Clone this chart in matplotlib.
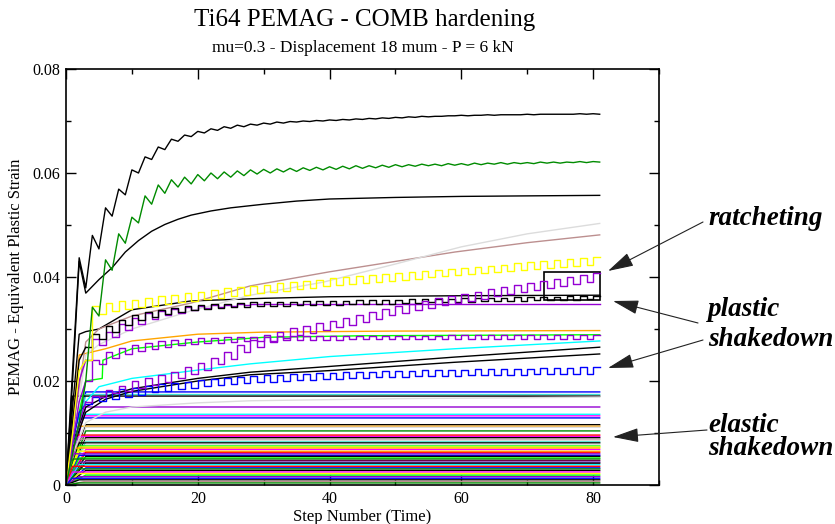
"""
Ti64 PEMAG - COMB hardening: equivalent plastic strain against step number,
with the ratcheting / plastic shakedown / elastic shakedown regimes marked.
"""

import numpy as np
import matplotlib
matplotlib.use('Agg')
import matplotlib.pyplot as plt
from matplotlib.patches import Rectangle
from matplotlib.ticker import MultipleLocator, FuncFormatter

# xmgrace default palette
BLACK = '#000000'
RED = '#ff0000'
GREEN = '#00ff00'
BLUE = '#0000ff'
YELLOW = '#ffff00'
BROWN = '#bc8f8f'
GREY = '#dcdcdc'
VIOLET = '#9400d3'
CYAN = '#00ffff'
MAGENTA = '#ff00ff'
ORANGE = '#ffa500'
INDIGO = '#7221bc'
MAROON = '#670748'
TURQUOISE = '#40e0d0'
GREEN4 = '#008b00'

steps = np.arange(82)

# --- curves read step by step (one value per step 0..81) -------------------
top_black = [
    0, 0.0220, 0.0437, 0.0379, 0.0480, 0.0454, 0.0533, 0.0517, 0.0569, 0.0558,
    0.0606, 0.0600, 0.0631, 0.0626, 0.0650, 0.0645, 0.0665, 0.0661, 0.0673, 0.0670,
    0.0680, 0.0677, 0.0685, 0.0682, 0.0689, 0.0686, 0.0692, 0.0689, 0.0694, 0.0692,
    0.0696, 0.0694, 0.0698, 0.0696, 0.0699, 0.0698, 0.0700, 0.0699, 0.0701, 0.0700,
    0.0702, 0.0701, 0.0703, 0.0702, 0.0704, 0.0703, 0.0705, 0.0704, 0.0706, 0.0705,
    0.0707, 0.0706, 0.0708, 0.0707, 0.0709, 0.0708, 0.0709, 0.0709, 0.0710, 0.0710,
    0.0711, 0.0710, 0.0711, 0.0711, 0.0712, 0.0711, 0.0712, 0.0712, 0.0712, 0.0712,
    0.0713, 0.0712, 0.0713, 0.0713, 0.0713, 0.0713, 0.0713, 0.0713, 0.0714, 0.0713,
    0.0714, 0.0713]

green_top = [
    0, 0.0060, 0.0120, 0.0200, 0.0342, 0.0325, 0.0433, 0.0413, 0.0483, 0.0465,
    0.0515, 0.0504, 0.0556, 0.0540, 0.0577, 0.0561, 0.0587, 0.0573, 0.0592, 0.0579,
    0.0597, 0.0585, 0.0600, 0.0589, 0.0602, 0.0592, 0.0604, 0.0595, 0.0606, 0.0598,
    0.0607, 0.0600, 0.0608, 0.0602, 0.0609, 0.0603, 0.0610, 0.0605, 0.0611, 0.0606,
    0.0612, 0.0607, 0.0613, 0.0608, 0.0614, 0.0609, 0.0614, 0.0610, 0.0615, 0.0611,
    0.0616, 0.0612, 0.0616, 0.0613, 0.0617, 0.0614, 0.0617, 0.0614, 0.0618, 0.0615,
    0.0618, 0.0615, 0.0619, 0.0616, 0.0619, 0.0617, 0.0620, 0.0617, 0.0620, 0.0618,
    0.0620, 0.0618, 0.0621, 0.0619, 0.0621, 0.0619, 0.0621, 0.0620, 0.0622, 0.0620,
    0.0622, 0.0621]

yellow_sq = [
    0, 0.0100, 0.0220, 0.0240, 0.0345, 0.0328, 0.0350, 0.0334, 0.0353, 0.0338,
    0.0356, 0.0342, 0.0360, 0.0345, 0.0363, 0.0348, 0.0366, 0.0351, 0.0369, 0.0354,
    0.0372, 0.0357, 0.0375, 0.0360, 0.0378, 0.0363, 0.0380, 0.0366, 0.0383, 0.0369,
    0.0385, 0.0372, 0.0388, 0.0374, 0.0390, 0.0377, 0.0392, 0.0379, 0.0395, 0.0382,
    0.0398, 0.0385, 0.0400, 0.0387, 0.0402, 0.0389, 0.0404, 0.0391, 0.0406, 0.0393,
    0.0408, 0.0395, 0.0410, 0.0397, 0.0412, 0.0400, 0.0414, 0.0402, 0.0416, 0.0404,
    0.0418, 0.0406, 0.0420, 0.0408, 0.0422, 0.0410, 0.0424, 0.0412, 0.0426, 0.0414,
    0.0428, 0.0416, 0.0430, 0.0418, 0.0432, 0.0420, 0.0434, 0.0422, 0.0436, 0.0424,
    0.0438, 0.0438]

ratchet_violet = [
    0, 0.0060, 0.0120, 0.0160, 0.0172, 0.0170, 0.0182, 0.0176, 0.0190, 0.0181,
    0.0200, 0.0187, 0.0205, 0.0192, 0.0211, 0.0198, 0.0218, 0.0205, 0.0226, 0.0213,
    0.0235, 0.0222, 0.0245, 0.0232, 0.0256, 0.0243, 0.0269, 0.0256, 0.0279, 0.0266,
    0.0288, 0.0275, 0.0295, 0.0282, 0.0301, 0.0288, 0.0306, 0.0293, 0.0311, 0.0298,
    0.0316, 0.0303, 0.0321, 0.0308, 0.0327, 0.0314, 0.0333, 0.0320, 0.0339, 0.0326,
    0.0344, 0.0331, 0.0349, 0.0336, 0.0354, 0.0341, 0.0359, 0.0346, 0.0363, 0.0350,
    0.0367, 0.0354, 0.0371, 0.0358, 0.0376, 0.0363, 0.0380, 0.0367, 0.0384, 0.0371,
    0.0388, 0.0375, 0.0392, 0.0379, 0.0396, 0.0383, 0.0400, 0.0387, 0.0404, 0.0391,
    0.0407, 0.0407]

black_sq = [
    0, 0.0120, 0.0240, 0.0265, 0.0290, 0.0280, 0.0305, 0.0295, 0.0318, 0.0308,
    0.0327, 0.0317, 0.0333, 0.0323, 0.0337, 0.0328, 0.0341, 0.0333, 0.0344, 0.0337,
    0.0346, 0.0339, 0.0348, 0.0341, 0.0349, 0.0342, 0.0350, 0.0343, 0.0351, 0.0344,
    0.0351, 0.0345, 0.0352, 0.0345, 0.0352, 0.0346, 0.0353, 0.0346, 0.0353, 0.0347,
    0.0354, 0.0347, 0.0354, 0.0348, 0.0355, 0.0348, 0.0355, 0.0349, 0.0356, 0.0349,
    0.0356, 0.0350, 0.0357, 0.0350, 0.0357, 0.0351, 0.0358, 0.0351, 0.0358, 0.0352,
    0.0359, 0.0352, 0.0359, 0.0353, 0.0360, 0.0353, 0.0360, 0.0354, 0.0361, 0.0354,
    0.0361, 0.0355, 0.0362, 0.0355, 0.0362, 0.0356, 0.0363, 0.0356, 0.0363, 0.0357,
    0.0364, 0.0364]

violet_flat = [
    0, 0.0100, 0.0200, 0.0240, 0.0280, 0.0270, 0.0295, 0.0285, 0.0310, 0.0298,
    0.0322, 0.0310, 0.0330, 0.0319, 0.0335, 0.0326, 0.0339, 0.0331, 0.0342, 0.0336,
    0.0344, 0.0340, 0.0346, 0.0343, 0.0347, 0.0345, 0.0348, 0.0347, 0.0348, 0.0348,
    0.0348, 0.0348, 0.0348, 0.0348, 0.0348, 0.0348, 0.0348, 0.0348, 0.0348, 0.0348,
    0.0348, 0.0348, 0.0348, 0.0348, 0.0348, 0.0348, 0.0348, 0.0348, 0.0348, 0.0348,
    0.0348, 0.0348, 0.0348, 0.0348, 0.0348, 0.0348, 0.0348, 0.0348, 0.0348, 0.0348,
    0.0348, 0.0348, 0.0348, 0.0348, 0.0348, 0.0348, 0.0348, 0.0348, 0.0348, 0.0348,
    0.0348, 0.0348, 0.0348, 0.0348, 0.0348, 0.0348, 0.0348, 0.0348, 0.0348, 0.0348,
    0.0348, 0.0348]

violet_sq = [
    0, 0.0080, 0.0160, 0.0200, 0.0240, 0.0232, 0.0255, 0.0245, 0.0264, 0.0252,
    0.0270, 0.0257, 0.0274, 0.0262, 0.0277, 0.0266, 0.0279, 0.0269, 0.0281, 0.0271,
    0.0282, 0.0273, 0.0283, 0.0274, 0.0284, 0.0275, 0.0284, 0.0276, 0.0285, 0.0277,
    0.0285, 0.0277, 0.0286, 0.0278, 0.0286, 0.0278, 0.0286, 0.0279, 0.0287, 0.0279,
    0.0287, 0.0279, 0.0287, 0.0280, 0.0287, 0.0280, 0.0287, 0.0280, 0.0287, 0.0280,
    0.0287, 0.0280, 0.0287, 0.0280, 0.0287, 0.0280, 0.0287, 0.0281, 0.0288, 0.0281,
    0.0288, 0.0281, 0.0288, 0.0281, 0.0288, 0.0281, 0.0288, 0.0281, 0.0288, 0.0281,
    0.0288, 0.0281, 0.0288, 0.0281, 0.0288, 0.0281, 0.0288, 0.0281, 0.0288, 0.0281,
    0.0288, 0.0288]

blue_sq = [
    0, 0.0080, 0.0140, 0.0155, 0.0170, 0.0162, 0.0180, 0.0166, 0.0184, 0.0170,
    0.0187, 0.0174, 0.0191, 0.0178, 0.0194, 0.0181, 0.0197, 0.0184, 0.0199, 0.0187,
    0.0202, 0.0190, 0.0204, 0.0192, 0.0206, 0.0194, 0.0208, 0.0196, 0.0210, 0.0198,
    0.0211, 0.0199, 0.0212, 0.0200, 0.0213, 0.0201, 0.0214, 0.0202, 0.0215, 0.0203,
    0.0216, 0.0204, 0.0217, 0.0205, 0.0218, 0.0206, 0.0218, 0.0207, 0.0219, 0.0207,
    0.0220, 0.0208, 0.0220, 0.0209, 0.0221, 0.0209, 0.0221, 0.0210, 0.0222, 0.0210,
    0.0222, 0.0211, 0.0223, 0.0211, 0.0223, 0.0212, 0.0224, 0.0212, 0.0224, 0.0212,
    0.0224, 0.0213, 0.0225, 0.0213, 0.0225, 0.0213, 0.0225, 0.0214, 0.0226, 0.0214,
    0.0226, 0.0226]

# --- smoother curves, read at a few steps ----------------------------------
black_mid_x = [0, 1, 2, 3, 5, 7, 9, 11, 13, 15, 17, 19, 22, 25, 30, 35, 40, 50, 60, 70, 81]
black_mid_y = [0, 0.0200, 0.0430, 0.0369, 0.0395, 0.0418, 0.0448, 0.0470, 0.0488, 0.0501,
               0.0511, 0.0519, 0.0527, 0.0533, 0.0540, 0.0546, 0.0550, 0.0553, 0.0555,
               0.0556, 0.0557]

grey_x = [0, 1, 3, 5, 10, 19, 28, 39, 50, 60, 70, 81]
grey_y = [0, 0.0080, 0.0250, 0.0270, 0.0300, 0.0335, 0.0365, 0.0390, 0.0425, 0.0458,
          0.0483, 0.0503]

brown_x = [0, 1, 3, 5, 10, 19, 28, 40, 50, 59, 70, 81]
brown_y = [0, 0.0100, 0.0275, 0.0300, 0.0325, 0.0350, 0.0383, 0.0410, 0.0430, 0.0448,
           0.0466, 0.0481]

black_line_x = [0, 1, 2, 3, 5, 10, 19, 30, 40, 60, 81]
black_line_y = [0, 0.0150, 0.0290, 0.0295, 0.0300, 0.0337, 0.0354, 0.0359, 0.0362,
                0.0364, 0.0365]

orange_x = [0, 1, 2, 4, 6, 10, 20, 30, 50, 81]
orange_y = [0, 0.0120, 0.0250, 0.0256, 0.0262, 0.0277, 0.0290, 0.0294, 0.0296, 0.0297]

green_x = [0, 1, 3, 5.5, 5.6, 10, 20, 30, 45, 81]
green_y = [0, 0.0080, 0.0200, 0.0205, 0.0240, 0.0262, 0.0275, 0.0284, 0.0287, 0.0289]

cyan_x = [0, 1, 3, 5, 10, 20, 28, 40, 59, 81]
cyan_y = [0, 0.0100, 0.0160, 0.0189, 0.0205, 0.0221, 0.0233, 0.0247, 0.0262, 0.0277]

black_c_x = [0, 1, 3, 6, 10, 20, 28, 40, 59, 81]
black_c_y = [0, 0.0080, 0.0150, 0.0170, 0.0185, 0.0205, 0.0217, 0.0228, 0.0246, 0.0265]

black_d_x = [0, 1, 3, 6, 10, 20, 28, 40, 59, 81]
black_d_y = [0, 0.0070, 0.0140, 0.0165, 0.0180, 0.0200, 0.0212, 0.0220, 0.0236, 0.0252]

grey_e_x = [0, 1, 3, 6, 10, 20, 28, 50, 81]
grey_e_y = [0, 0.0060, 0.0120, 0.0140, 0.0150, 0.0158, 0.0162, 0.0166, 0.0169]

# --- elastic shakedown: flat levels reached after a few steps --------------
flat_levels = [0.0179, 0.0174, 0.0171, 0.0150, 0.0136, 0.0133, 0.0129, 0.0116, 0.0113,
               0.0111, 0.0104, 0.0096, 0.0093, 0.0091, 0.0088, 0.0086, 0.0083, 0.0081,
               0.0078, 0.0075, 0.0073, 0.0071, 0.0068, 0.0065, 0.0063, 0.0060, 0.0057,
               0.0055, 0.0052, 0.0050, 0.0047, 0.0044, 0.0042, 0.0039, 0.0036, 0.0033,
               0.0031, 0.0028, 0.0025, 0.0022, 0.0019, 0.0016, 0.0013, 0.0010, 0.0007,
               0.0004]
flat_rise = [3, 3, 1, 3, 1, 1, 1, 3, 1, 3, 3, 1, 1, 3, 2, 3, 3, 2, 3, 2, 2, 1, 3, 2, 3, 1,
             2, 3, 2, 1, 3, 2, 3, 2, 1, 3, 2, 3, 1, 2, 3, 2, 1, 2, 3, 2]
flat_colors = [BLUE, TURQUOISE, BLACK, VIOLET, CYAN, MAGENTA, BLUE, BLACK, ORANGE, GREY,
               GREEN4, RED, MAGENTA, BLACK, BROWN, GREY, TURQUOISE, BLACK, GREY, GREEN,
               YELLOW, ORANGE, MAGENTA, YELLOW, RED, VIOLET, BLUE, BLACK, GREEN, GREEN4,
               MAROON, INDIGO, BLACK, CYAN, RED, BLUE, GREEN4, BLACK, MAGENTA, YELLOW,
               GREEN, VIOLET, BLUE, BLACK, BROWN, GREEN4]

SERIF = ['Liberation Serif', 'DejaVu Serif']
LW = 1.0

fig = plt.figure(figsize=(8.35, 5.24), dpi=100)
ax = fig.add_axes([66 / 835, 1 - 485 / 524, 593 / 835, 416 / 524])

for level, rise, col in zip(flat_levels, flat_rise, flat_colors):
    ax.plot([0, rise, 81], [0, level, level], color=col, lw=LW)

for xs, ys, col in [(grey_e_x, grey_e_y, GREY), (black_d_x, black_d_y, BLACK),
                    (black_c_x, black_c_y, BLACK), (cyan_x, cyan_y, CYAN),
                    (green_x, green_y, GREEN), (orange_x, orange_y, ORANGE),
                    (black_line_x, black_line_y, BLACK), (brown_x, brown_y, BROWN),
                    (grey_x, grey_y, GREY), (black_mid_x, black_mid_y, BLACK)]:
    ax.plot(xs, ys, color=col, lw=LW)

# square-wave curves: straight rise from the origin, then held step by step
for ys, col in [(blue_sq, BLUE), (violet_sq, VIOLET), (violet_flat, VIOLET),
                (black_sq, BLACK), (ratchet_violet, VIOLET), (yellow_sq, YELLOW)]:
    ax.plot(steps[:4], ys[:4], color=col, lw=LW)
    ax.plot(steps[3:], ys[3:], color=col, lw=LW, drawstyle='steps-post')

ax.plot(steps, green_top, color=GREEN4, lw=LW)
ax.plot(steps, top_black, color=BLACK, lw=LW)

# box around the ratcheting / shakedown pair
ax.add_patch(Rectangle((72.6, 0.0356), 8.5, 0.0054, fill=False, ec=BLACK, lw=1.2))

ax.set_xlim(0, 90)
ax.set_ylim(0, 0.08)
ax.xaxis.set_major_locator(MultipleLocator(20))
ax.xaxis.set_minor_locator(MultipleLocator(10))
ax.yaxis.set_major_locator(MultipleLocator(0.02))
ax.yaxis.set_minor_locator(MultipleLocator(0.01))
ax.yaxis.set_major_formatter(FuncFormatter(lambda v, _: f'{v:g}'))
ax.tick_params(which='both', direction='in', top=True, right=True, width=1,
               labelsize=11.5, pad=4)
ax.tick_params(which='major', length=7)
ax.tick_params(which='minor', length=3.5)
for lab in ax.get_xticklabels() + ax.get_yticklabels():
    lab.set_family(SERIF)
for sp in ax.spines.values():
    sp.set_linewidth(1.2)

ax.set_xlabel('Step Number (Time)', family=SERIF, fontsize=12, labelpad=2)
ax.set_ylabel('PEMAG - Equivalent Plastic Strain', family=SERIF, fontsize=12, labelpad=6)

fig.text(365 / 835, 1 - 20 / 524, 'Ti64 PEMAG - COMB hardening', family=SERIF,
         fontsize=18, ha='center', va='center')
fig.text(363 / 835, 1 - 48 / 524, 'mu=0.3 - Displacement 18 mum - P = 6 kN',
         family=SERIF, fontsize=12.5, ha='center', va='center')

label_kw = dict(family=SERIF, fontsize=19.5, weight='bold', style='italic',
                ha='left', va='baseline')
fig.text(708 / 835, 1 - 225 / 524, 'ratcheting', **label_kw)
fig.text(708 / 835, 1 - 316 / 524, 'plastic', **label_kw)
fig.text(708 / 835, 1 - 346 / 524, 'shakedown', **label_kw)
fig.text(708 / 835, 1 - 432 / 524, 'elastic', **label_kw)
fig.text(708 / 835, 1 - 455 / 524, 'shakedown', **label_kw)

arrow_kw = dict(arrowstyle='-|>,head_length=0.8,head_width=0.22', color='#222222',
                lw=0.8, mutation_scale=20, shrinkA=0, shrinkB=0)
for tail, tip in [((703, 222), (608, 271)), ((698, 323), (613, 301)),
                  ((703, 340), (608, 368)), ((707, 430), (613, 437))]:
    ax.annotate('', xy=(tip[0] / 835, 1 - tip[1] / 524), xycoords='figure fraction',
                xytext=(tail[0] / 835, 1 - tail[1] / 524), textcoords='figure fraction',
                arrowprops=arrow_kw, annotation_clip=False)

fig.savefig('out.png', dpi=100)
